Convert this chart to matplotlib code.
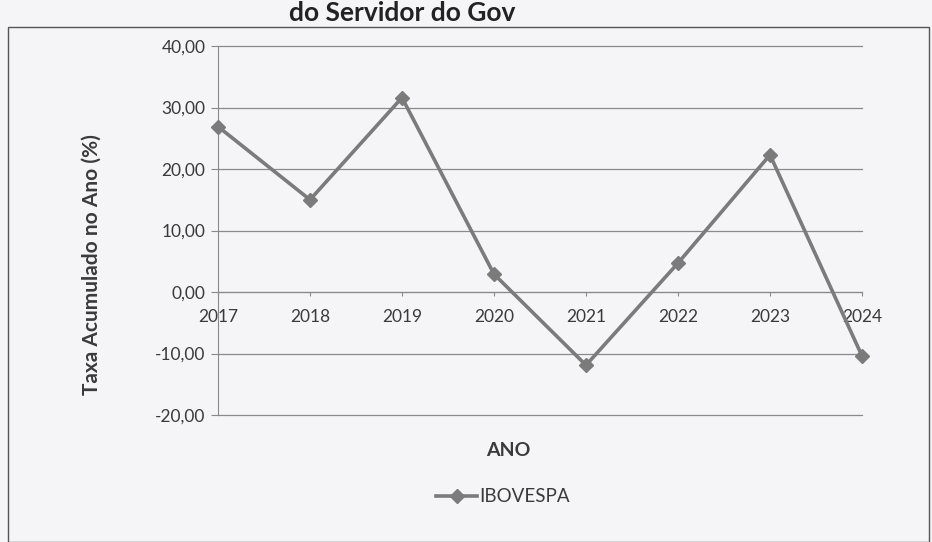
import matplotlib.pyplot as plt
from matplotlib.patches import Rectangle

# dados do grafico
anos = ['2017', '2018', '2019', '2020', '2021', '2022', '2023', '2024']
ibovespa = [26.9, 15.0, 31.6, 2.9, -11.9, 4.7, 22.3, -10.4]
y_ticks = [-20, -10, 0, 10, 20, 30, 40]

plt.rcParams['font.family'] = ['Lato', 'DejaVu Sans']

cor_linha = '#7b7b7b'
cor_texto = '#3a3a3a'

fig = plt.figure(figsize=(9.32, 5.42), dpi=100)
fig.patch.set_facecolor('#f5f5f7')

# moldura do grafico
fig.patches.append(Rectangle((8 / 932, 0), 921 / 932, 1 - 27 / 542, transform=fig.transFigure,
                             fill=False, edgecolor='#555555', linewidth=1))
# cabecalho no topo
fig.text(0.31, 0.999, 'do Servidor do Gov', fontsize=19, fontweight='bold', color='#222222',
         va='top', ha='left')

ax = fig.add_axes([218 / 932, 1 - 415 / 542, 644 / 932, 369 / 542])
ax.set_facecolor('none')

x = list(range(len(anos)))
ax.plot(x, ibovespa, color=cor_linha, linewidth=2.6, marker='D', markersize=7.5,
        markerfacecolor=cor_linha, markeredgecolor=cor_linha, label='IBOVESPA', zorder=3,
        clip_on=False)

ax.set_xlim(0, len(anos) - 1)
ax.set_ylim(-20, 40)
ax.set_yticks(y_ticks)
ax.set_yticklabels([('%.2f' % v).replace('.', ',') for v in y_ticks])
ax.set_xticks(x)
ax.set_xticklabels(anos)

ax.grid(axis='y', color='#8a8a8a', linewidth=0.9)
ax.set_axisbelow(True)
for gl in ax.get_ygridlines():
    gl.set_clip_on(False)

# eixo x cruza em zero
ax.spines['bottom'].set_position(('data', 0))
ax.spines['bottom'].set_color('#8a8a8a')
ax.spines['left'].set_color('#8a8a8a')
ax.spines['top'].set_visible(False)
ax.spines['right'].set_visible(False)

ax.tick_params(axis='y', labelsize=12.5, colors='#8a8a8a', labelcolor=cor_texto, length=5, pad=4)
ax.tick_params(axis='x', labelsize=12.5, colors='#8a8a8a', labelcolor=cor_texto, length=3, pad=9)

fig.text(92 / 932, 1 - 265 / 542, 'Taxa Acumulado no Ano (%)', fontsize=15, fontweight='bold',
         color=cor_texto, rotation=90, ha='center', va='center')
fig.text(508 / 932, 1 - 450 / 542, 'ANO', fontsize=14, fontweight='bold', color=cor_texto,
         ha='center', va='center')

leg = fig.legend(loc='center', bbox_to_anchor=(503 / 932, 1 - 497 / 542), frameon=False,
                 fontsize=13.5, handlelength=2.2, handletextpad=0.1, labelcolor=cor_texto)

plt.savefig('out.png', dpi=100, facecolor=fig.get_facecolor())
